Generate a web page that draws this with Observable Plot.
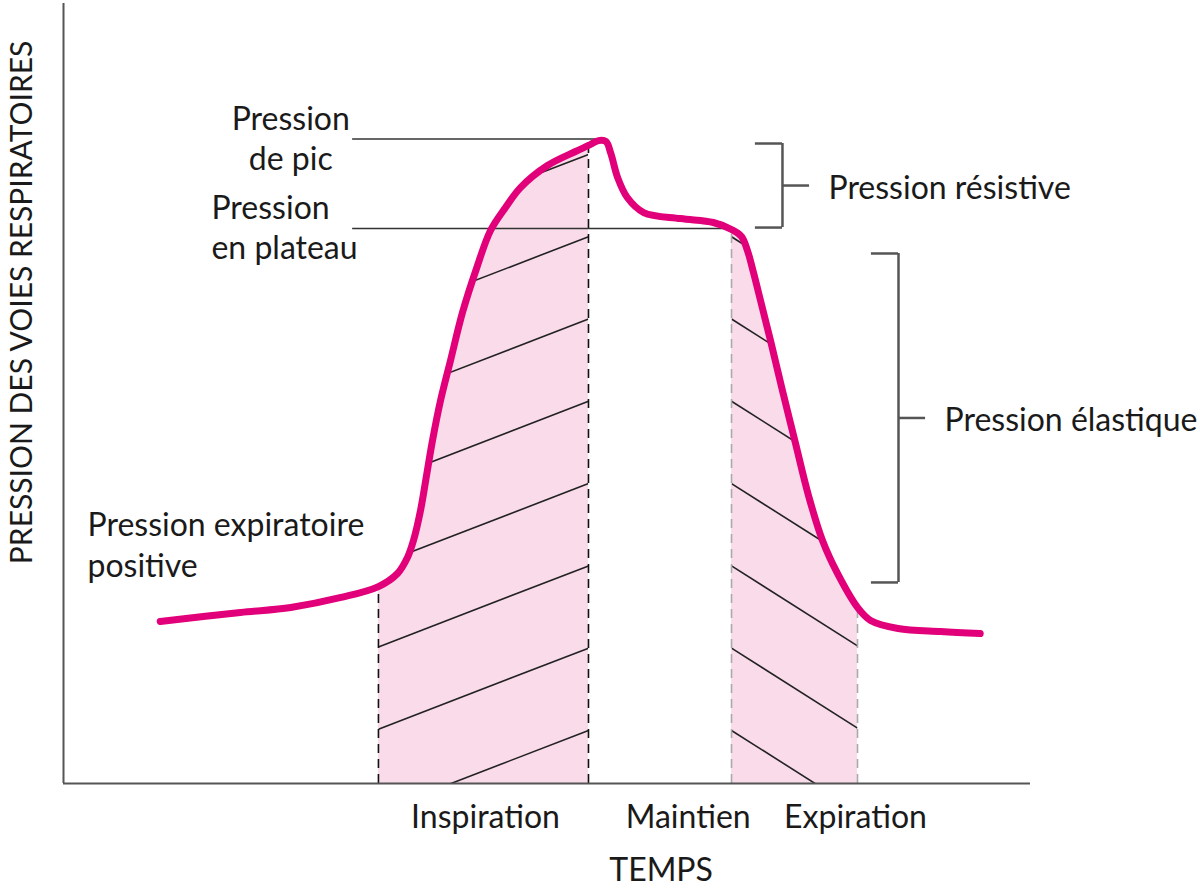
<!DOCTYPE html>
<html>
<head>
<meta charset="utf-8">
<script src="https://cdn.jsdelivr.net/npm/d3@7"></script>
<script src="https://cdn.jsdelivr.net/npm/@observablehq/plot@0.6"></script>
<style>
  html, body { margin: 0; padding: 0; background: #fff; }
  svg { display: block; }
</style>
</head>
<body>
<script>
// ---- Data (time and pressure in arbitrary units) ----
const time = [1.00, 1.83, 2.35, 2.87, 3.257, 3.454, 3.557, 3.619, 3.692, 3.754, 3.816, 3.899, 4.002, 4.126, 4.271, 4.416, 4.571, 4.726, 5.005, 5.295, 5.429, 5.533, 5.61, 5.66, 5.73, 5.83, 6.00, 6.38, 6.72, 6.908, 7.011, 7.073, 7.135, 7.208, 7.311, 7.435, 7.570, 7.704, 7.849, 8.004, 8.211, 8.346, 8.63, 9.07, 9.48];
const pressure = [8.31, 8.77, 9.03, 9.54, 10.10, 10.77, 11.59, 12.46, 14.00, 15.79, 17.59, 19.64, 21.69, 24.15, 26.41, 28.36, 29.54, 30.56, 31.69, 32.41, 32.72, 32.97, 32.92, 32.31, 31.08, 30.05, 29.28, 28.97, 28.77, 28.41, 28.05, 27.33, 26.21, 24.77, 22.72, 20.15, 17.44, 14.77, 12.46, 10.77, 9.03, 8.36, 7.95, 7.79, 7.69];

const inspiration = [3.257, 5.429];
const expiration = [6.908, 8.211];

const phaseNames = ["Inspiration", "Maintien", "Expiration"];
const phaseCenters = [4.364, 6.46, 8.19];

const refNames = ["Pression\nde pic", "Pression\nen plateau"];
const refValues = [33.05, 28.46];
const refEnds = [5.53, 6.93];

const bracketNames = ["Pression résistive", "Pression élastique"];
const bracketX = [7.435, 8.635];
const bracketLow = [28.51, 10.31];
const bracketHigh = [32.82, 27.18];

const peepLabel = "Pression expiratoire\npositive";
const xTitle = "TEMPS";
const yTitle = "PRESSION DES VOIES RESPIRATOIRES";

// ---- Derived tables ----
const curve = time.map((t, i) => ({t, p: pressure[i]}));
const inspData = curve.filter(d => d.t >= inspiration[0] && d.t <= inspiration[1]);
const expData = curve.filter(d => d.t >= expiration[0] && d.t <= expiration[1]);
const pAt = t => curve.find(d => d.t === t).p;
const boundaries = [
  ...inspiration.map(t => ({t, p: pAt(t), kind: "insp"})),
  ...expiration.map(t => ({t, p: pAt(t), kind: "exp"}))
];
const refs = refNames.map((name, i) => ({name, value: refValues[i], end: refEnds[i]}));
const brackets = bracketNames.map((name, i) => ({name, x: bracketX[i], lo: bracketLow[i], hi: bracketHigh[i], mid: (bracketLow[i] + bracketHigh[i]) / 2}));

// hatching (decoration)
const hatchBase = 2.72, hatchStep = 4.22;
const ks = d3.range(-2, 11);
const inspHatch = ks.map(k => ({x1: inspiration[0], y1: hatchBase + k * hatchStep - 4.155, x2: inspiration[1], y2: hatchBase + k * hatchStep}));
const expHatch = ks.map(k => ({x1: expiration[0], y1: hatchBase + k * hatchStep, x2: expiration[1], y2: hatchBase + k * hatchStep - 4.10}));

const pink = "#e2007a";
const fillPink = "#f9dbe9";
const ink = "#1a1a1a";
const FS = 32;
const tickLen = 0.28;
const curveType = "catmull-rom";

const svg = Plot.plot({
  width: 1200,
  height: 892,
  marginLeft: 63,
  marginRight: 170,
  marginTop: 3,
  marginBottom: 109,
  x: {domain: [0, 10]},
  y: {domain: [0, 40], axis: null},
  style: {fontFamily: "Lato, sans-serif", color: ink, background: "#fff"},
  marks: [
    Plot.areaY(inspData, {x: "t", y: "p", fill: fillPink, curve: curveType, ariaDescription: "insp-area"}),
    Plot.areaY(expData, {x: "t", y: "p", fill: fillPink, curve: curveType, ariaDescription: "exp-area"}),
    Plot.link(inspHatch, {x1: "x1", y1: "y1", x2: "x2", y2: "y2", stroke: "#222", strokeWidth: 1.6, ariaDescription: "insp-hatch"}),
    Plot.link(expHatch, {x1: "x1", y1: "y1", x2: "x2", y2: "y2", stroke: "#222", strokeWidth: 1.6, ariaDescription: "exp-hatch"}),
    Plot.ruleX(boundaries.filter(d => d.kind === "insp"), {x: "t", y1: 0, y2: "p", stroke: "#111", strokeWidth: 1.6, strokeDasharray: "9,6"}),
    Plot.ruleX(boundaries.filter(d => d.kind === "exp"), {x: "t", y1: 0, y2: "p", stroke: "#aaa", strokeWidth: 1.6, strokeDasharray: "9,6"}),
    Plot.ruleY(refs, {y: "value", x1: 2.99, x2: "end", stroke: "#333", strokeWidth: 1.6}),
    Plot.line(curve, {x: "t", y: "p", stroke: pink, strokeWidth: 7, curve: curveType, strokeLinecap: "round"}),
    // axes
    Plot.ruleX([0], {y1: 0, y2: 40, stroke: "#555", strokeWidth: 2}),
    Plot.ruleY([0], {x1: 0, x2: 10, stroke: "#555", strokeWidth: 2}),
    // brackets
    Plot.ruleX(brackets, {x: "x", y1: "lo", y2: "hi", stroke: "#555", strokeWidth: 2.5}),
    Plot.ruleY(brackets, {y: "hi", x1: d => d.x - tickLen, x2: "x", stroke: "#555", strokeWidth: 2.5}),
    Plot.ruleY(brackets, {y: "lo", x1: d => d.x - tickLen, x2: "x", stroke: "#555", strokeWidth: 2.5}),
    Plot.ruleY(brackets, {y: "mid", x1: "x", x2: d => d.x + tickLen, stroke: "#555", strokeWidth: 2.5}),
    Plot.text(brackets, {x: "x", y: "mid", text: "name", dx: 46, dy: 3, textAnchor: "start", fontSize: FS, fill: ink}),
    // labels
    Plot.text([refs[0]], {x: 2.35, y: "value", text: "name", textAnchor: "middle", lineAnchor: "middle", lineHeight: 1.25, dy: -2, fontSize: FS, fill: ink}),
    Plot.text([refs[1]], {x: 1.53, y: "value", text: "name", textAnchor: "start", lineAnchor: "middle", lineHeight: 1.25, dy: -2, fontSize: FS, fill: ink}),
    Plot.text([peepLabel], {x: 0.248, y: 12.33, text: d => d, textAnchor: "start", lineAnchor: "middle", lineHeight: 1.3, fontSize: FS, fill: ink}),
    // axis labels
    Plot.axisX(phaseCenters, {tickSize: 0, tickPadding: 22, tickFormat: d => phaseNames[phaseCenters.indexOf(d)], fontSize: FS, label: null, fill: ink}),
    Plot.text([xTitle], {x: 6.18, frameAnchor: "bottom", dy: 87, lineAnchor: "middle", text: d => d, fontSize: FS, fill: ink}),
    Plot.text([yTitle], {frameAnchor: "left", y: 24.67, dx: -41, rotate: -90, textAnchor: "middle", lineAnchor: "middle", text: d => d, fontSize: 30, fill: ink})
  ]
});

// clip hatching to the shaded areas
const defs = d3.select(svg).insert("defs", ":first-child");
["insp", "exp"].forEach(name => {
  const area = svg.querySelector(`[aria-description="${name}-area"] path`);
  const hatch = svg.querySelector(`[aria-description="${name}-hatch"]`);
  if (area && hatch) {
    defs.append("clipPath").attr("id", `clip-${name}`).append("path").attr("d", area.getAttribute("d"));
    hatch.setAttribute("clip-path", `url(#clip-${name})`);
  }
});

document.body.appendChild(svg);
</script>
</body>
</html>
